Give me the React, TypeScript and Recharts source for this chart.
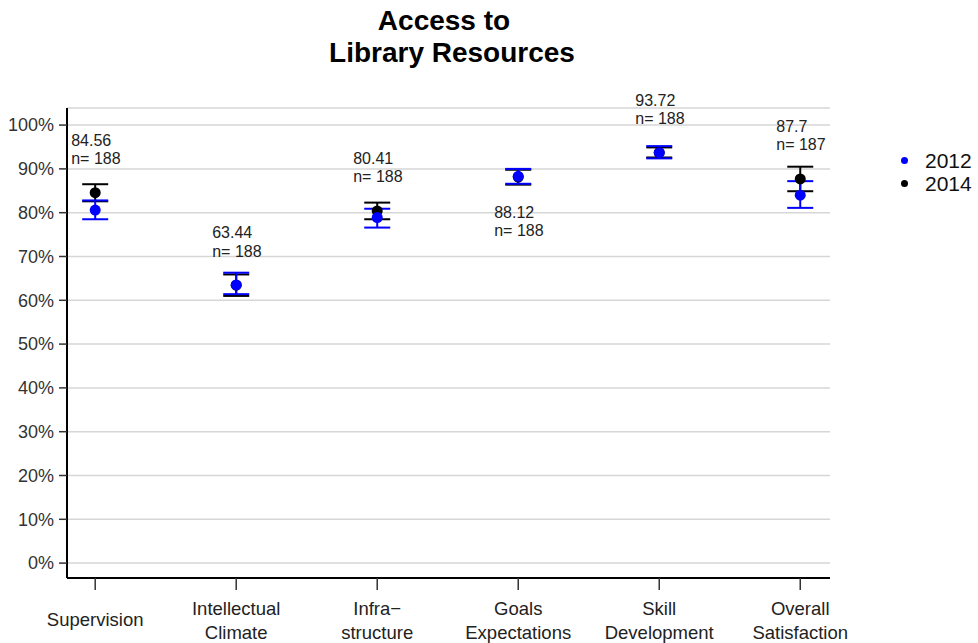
import React from "react";
import { ScatterChart, Scatter, XAxis, YAxis, CartesianGrid, ErrorBar } from "recharts";

document.body.style.margin = "0";

const FONT = "'Liberation Sans', Arial, sans-serif";

const categories = [
  "Supervision",
  "Intellectual\nClimate",
  "Infra\u2212\nstructure",
  "Goals\nExpectations",
  "Skill\nDevelopment",
  "Overall\nSatisfaction",
];

const mean2014 = [84.56, 63.44, 80.41, 88.12, 93.72, 87.7];
const low2014 = [82.6, 61.0, 78.5, 86.4, 92.6, 84.9];
const high2014 = [86.5, 65.9, 82.3, 89.8, 94.9, 90.5];

const mean2012 = [80.6, 63.5, 78.9, 88.3, 93.7, 84.0];
const low2012 = [78.5, 61.4, 76.6, 86.6, 92.4, 81.1];
const high2012 = [82.8, 66.3, 80.9, 90.0, 95.2, 87.2];

const counts = [188, 188, 188, 188, 188, 187];
// 1 = label above the point, -1 = below
const labelSide = [1, 1, 1, -1, 1, 1];

const yTicks = [0, 10, 20, 30, 40, 50, 60, 70, 80, 90, 100];

const series = [
  { name: "2012", color: "#0000FF" },
  { name: "2014", color: "#000000" },
];

const toRows = (mean: number[], low: number[], high: number[]) =>
  mean.map((m, i) => ({ x: i, y: m, err: [m - low[i], high[i] - m] }));

const data2014 = toRows(mean2014, low2014, high2014);
const data2012 = toRows(mean2012, low2012, high2012);
const labelData = mean2014.map((m, i) => ({
  x: i,
  y: m + labelSide[i] * 10,
  value: m,
  n: counts[i],
}));

const dot = (color: string) => (props: any) =>
  <circle cx={props.cx} cy={props.cy} r={5.5} fill={color} />;

const LabelShape = (props: any) => {
  const { cx, cy, payload } = props;
  const x = cx - 24;
  return (
    <text fontFamily={FONT} fontSize={16} fill="#222" dominantBaseline="central">
      <tspan x={x} y={cy - 9.25}>{String(payload.value)}</tspan>
      <tspan x={x} y={cy + 9.25}>{`n= ${payload.n}`}</tspan>
    </text>
  );
};

const CategoryTick = (props: any) => {
  const { x, y, payload } = props;
  const lines = categories[payload.value].split("\n");
  const top = lines.length === 1 ? y + 27 : y + 16;
  return (
    <text textAnchor="middle" fontFamily={FONT} fontSize={18.5} fill="#222" dominantBaseline="central">
      {lines.map((l, i) => (
        <tspan key={i} x={x} y={top + i * 24}>{l}</tspan>
      ))}
    </text>
  );
};

const LegendBox = () => (
  <div style={{ position: "absolute", left: 901, top: 149, fontFamily: FONT, fontSize: 21, color: "#111" }}>
    {series.map((s) => (
      <div key={s.name} style={{ display: "flex", alignItems: "center", height: 23 }}>
        <span style={{ width: 7, height: 7, borderRadius: "50%", background: s.color, marginRight: 17, display: "inline-block" }} />
        <span>{s.name}</span>
      </div>
    ))}
  </div>
);

export default function App() {
  return (
    <div style={{ position: "relative", width: 978, height: 643, background: "#fff" }}>
      <div style={{ position: "absolute", top: 0, left: 0, width: 978, fontFamily: FONT, fontWeight: "bold", fontSize: 28, color: "#000", lineHeight: "32px" }}>
        <div style={{ position: "absolute", top: 5, left: 444, transform: "translateX(-50%)", whiteSpace: "nowrap" }}>Access to</div>
        <div style={{ position: "absolute", top: 37, left: 452, transform: "translateX(-50%)", whiteSpace: "nowrap" }}>Library Resources</div>
      </div>
      <ScatterChart width={978} height={643} margin={{ top: 108, right: 148, bottom: 0, left: 8 }}>
        <CartesianGrid vertical={false} stroke="#d6d6d6" strokeWidth={1.5} />
        <XAxis
          type="number"
          dataKey="x"
          domain={[-0.2, 5.211]}
          ticks={[0, 1, 2, 3, 4, 5]}
          interval={0}
          height={65}
          tickSize={12}
          tick={<CategoryTick />}
          axisLine={{ stroke: "#000", strokeWidth: 2 }}
          tickLine={{ stroke: "#333", strokeWidth: 1.5 }}
        />
        <YAxis
          type="number"
          dataKey="y"
          domain={[-3.4, 103.9]}
          ticks={yTicks}
          interval={0}
          width={59}
          tickSize={8}
          tickMargin={5}
          tickFormatter={(v: number) => `${v}%`}
          tick={{ fontFamily: FONT, fontSize: 18, fill: "#333" }}
          axisLine={{ stroke: "#000", strokeWidth: 2 }}
          tickLine={{ stroke: "#333", strokeWidth: 1.5 }}
        />
        <Scatter name="2014" data={data2014} shape={dot("#000")} isAnimationActive={false}>
          <ErrorBar dataKey="err" direction="y" width={13} stroke="#000" strokeWidth={2} isAnimationActive={false} />
        </Scatter>
        <Scatter name="2012" data={data2012} shape={dot("#0000FF")} isAnimationActive={false}>
          <ErrorBar dataKey="err" direction="y" width={13} stroke="#0000FF" strokeWidth={2} isAnimationActive={false} />
        </Scatter>
        <Scatter name="labels" data={labelData} shape={<LabelShape />} legendType="none" isAnimationActive={false} />
      </ScatterChart>
      <LegendBox />
    </div>
  );
}
